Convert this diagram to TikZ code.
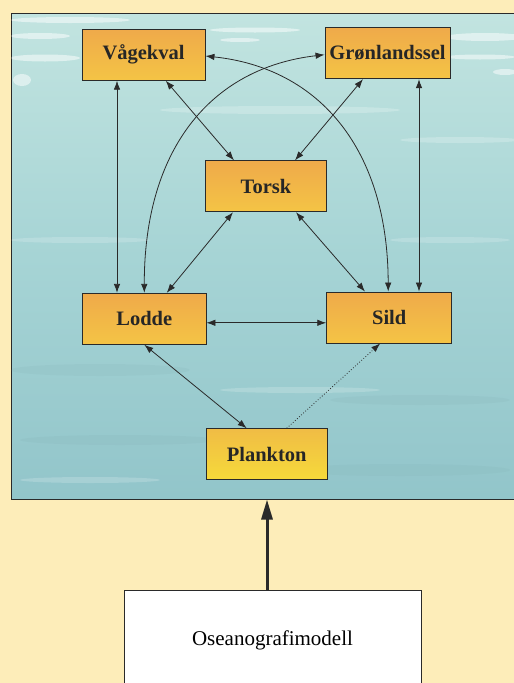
\documentclass[tikz,border=0pt]{standalone}
\usepackage{fontspec}
\setmainfont{Liberation Serif}
\usetikzlibrary{arrows.meta,shadings}
\definecolor{cream}{HTML}{FDEDB9}
\definecolor{watertop}{HTML}{C2E4E0}
\definecolor{watermid}{HTML}{A6D4D5}
\definecolor{waterbot}{HTML}{92C5CA}
\definecolor{boxtop}{HTML}{EFAA4A}
\definecolor{boxbot}{HTML}{F4C445}
\definecolor{planktop}{HTML}{F0BC45}
\definecolor{plankbot}{HTML}{F6DA3A}
\definecolor{edge}{HTML}{2A2A2A}
\begin{document}
\begin{tikzpicture}[x=1pt,y=-1pt,
  species/.style={draw=edge, line width=0.9pt, top color=boxtop, bottom color=boxbot,
    minimum width=123pt, minimum height=51pt, inner sep=0pt,
    font=\fontsize{20.5}{24}\selectfont\bfseries, text=black!85},
  tip/.tip={Latex[length=9pt,width=6.5pt]},
  link/.style={draw=edge, line width=0.8pt, tip-tip},
  onelink/.style={draw=edge, line width=0.8pt, dotted, -tip},
  streak/.style={fill=white, opacity=0.5, draw=none},
  darkstreak/.style={fill=waterbot!85!black, opacity=0.12, draw=none}
]
\useasboundingbox (0,0) rectangle (514,683);
\clip (0,0) rectangle (514,683);
\fill[cream] (0,0) rectangle (514,683);

% water panel
\node[draw=edge, line width=1pt, minimum width=519pt, minimum height=486pt, inner sep=0pt,
  top color=watertop, bottom color=waterbot, middle color=watermid] (panel) at (270.5,256) {};
\begin{scope}
\clip (11.5,13.5) rectangle (514,498.5);
\fill[streak] (70,20) ellipse (60 and 3);
\fill[streak] (40,36) ellipse (30 and 3);
\fill[streak] (45,58) ellipse (35 and 3.5);
\fill[streak] (22,80) ellipse (9 and 6);
\fill[streak] (255,30) ellipse (45 and 2.5);
\fill[streak] (240,40) ellipse (20 and 2);
\fill[streak] (485,37) ellipse (40 and 4);
\fill[streak] (480,57) ellipse (35 and 2.5);
\fill[streak] (505,72) ellipse (12 and 3);
\fill[streak, opacity=0.22] (280,110) ellipse (120 and 4);
\fill[streak, opacity=0.22] (460,140) ellipse (60 and 3);
\fill[streak, opacity=0.18] (80,240) ellipse (70 and 3);
\fill[streak, opacity=0.18] (450,240) ellipse (60 and 3);
\fill[darkstreak] (100,370) ellipse (90 and 6);
\fill[darkstreak] (420,400) ellipse (90 and 5);
\fill[darkstreak] (120,440) ellipse (100 and 5);
\fill[darkstreak] (400,470) ellipse (110 and 6);
\fill[streak, opacity=0.18] (300,390) ellipse (80 and 3);
\fill[streak, opacity=0.18] (90,480) ellipse (70 and 3);
\end{scope}

% species boxes
\node[species, minimum width=123pt] (V) at (143.5,54.7) {Vågekval};
\node[species, minimum width=125pt] (G) at (387.5,53.2) {Grønlandssel};
\node[species, minimum width=120.5pt] (T) at (266,186.3) {Torsk};
\node[species, minimum width=123.3pt] (L) at (144.3,318.8) {Lodde};
\node[species, minimum width=125pt] (S) at (389.2,317.5) {Sild};
\node[species, minimum width=121.3pt, top color=planktop, bottom color=plankbot] (P) at (266.7,454.2) {Plankton};

% oceanography model
\node[draw=edge, line width=0.9pt, fill=white, minimum width=297pt, minimum height=100pt,
  inner sep=0pt, font=\fontsize{21}{25}\selectfont] (O) at (272.5,640) {Oseanografimodell};

% connectors
\draw[link] ([xshift=-26.5pt]V.south) -- ([xshift=-27.3pt]L.north);
\draw[link] ([xshift=31.5pt]G.south) -- ([xshift=29.8pt]S.north);
\draw[link] ([xshift=22.2pt]V.south) -- ([xshift=-32pt]T.north);
\draw[link] ([xshift=-24.5pt]G.south) -- ([xshift=29pt]T.north);
\draw[link] ([xshift=-33pt]T.south) -- ([xshift=22.4pt]L.north);
\draw[link] ([xshift=30pt]T.south) -- ([xshift=-24.2pt]S.north);
\draw[link] ([yshift=-1.3pt]V.east) .. controls (320,68) and (388,150) .. ([xshift=-1pt]S.north);
\draw[link] ([yshift=-1.5pt]G.west) .. controls (210,68) and (144,150) .. (L.north);
\draw[link] ([yshift=-4pt]L.east) -- ([yshift=-4pt]L.east -| S.west);
\draw[link] (L.south) -- ([xshift=-20pt]P.north);
\draw[onelink] ([xshift=20pt]P.north) -- ([xshift=-9pt]S.south);

% model feeds the ecosystem
\draw[draw=edge, line width=3pt, -{Triangle[length=20pt,width=11pt]}]
  ([xshift=-5.5pt]O.north) -- ([xshift=-5.5pt]O.north |- panel.south);
\end{tikzpicture}
\end{document}
